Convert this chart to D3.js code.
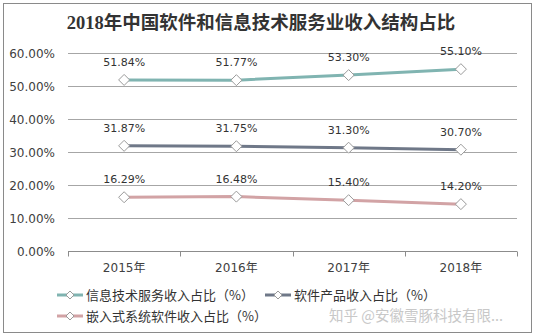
<!DOCTYPE html>
<html>
<head>
<meta charset="utf-8">
<script src="https://cdn.jsdelivr.net/npm/d3@7"></script>
<style>
  body { margin: 0; background: #fff; }
  svg { display: block; }
</style>
</head>
<body>
<div id="chart"></div>
<script>
const years = ["2015年", "2016年", "2017年", "2018年"];
const itService = [51.84, 51.77, 53.30, 55.10];
const softwareProduct = [31.87, 31.75, 31.30, 30.70];
const embedded = [16.29, 16.48, 15.40, 14.20];
const yTicks = [0, 10, 20, 30, 40, 50, 60];
const seriesNames = ["信息技术服务收入占比（%）", "软件产品收入占比（%）", "嵌入式系统软件收入占比（%）"];
const seriesColors = ["#80b4b1", "#6f7888", "#d2a3a5"];

const W = 535, H = 336;
const margin = { left: 68, right: 18, top: 53, bottom: 85 };
const cjk = "'Noto Sans CJK SC', sans-serif";

const svg = d3.select("#chart").append("svg")
  .attr("width", W)
  .attr("height", H);

// outer frame
svg.append("rect")
  .attr("x", 3.5).attr("y", 3.5)
  .attr("width", 528).attr("height", 329)
  .attr("fill", "#fff")
  .attr("stroke", "#8a8a8a");

svg.append("text")
  .attr("x", 261).attr("y", 29)
  .attr("text-anchor", "middle")
  .attr("font-family", "'Liberation Serif', 'Noto Sans CJK SC', serif")
  .attr("font-weight", "bold")
  .attr("font-size", 18.5)
  .attr("fill", "#333")
  .text("2018年中国软件和信息技术服务业收入结构占比");

const x = d3.scaleBand().domain(years).range([margin.left, W - margin.right]);
const y = d3.scaleLinear().domain([0, 60]).range([H - margin.bottom, margin.top]);

const g = svg.append("g");

// grid lines
g.selectAll("line.grid")
  .data(yTicks.filter(t => t > 0))
  .enter().append("line")
    .attr("class", "grid")
    .attr("x1", margin.left).attr("x2", W - margin.right)
    .attr("y1", d => Math.round(y(d)) + 0.5)
    .attr("y2", d => Math.round(y(d)) + 0.5)
    .attr("stroke", "#a6a6a6");

// y labels
g.selectAll("text.ylab")
  .data(yTicks)
  .enter().append("text")
    .attr("class", "ylab")
    .attr("x", 55)
    .attr("y", d => y(d) + 4.5)
    .attr("text-anchor", "end")
    .attr("font-family", "'DejaVu Sans', sans-serif")
    .attr("font-size", 12)
    .attr("fill", "#404040")
    .text(d => d.toFixed(2) + "%");

// x axis
const xAxis = g.append("g")
  .attr("transform", `translate(0, ${Math.round(y(0)) + 0.5})`)
  .call(d3.axisBottom(x).tickSize(0).tickPadding(12));
xAxis.select(".domain").attr("stroke", "#8c8c8c").attr("d", `M${margin.left},0H${W - margin.right}`);
xAxis.selectAll("text")
  .attr("font-family", "'DejaVu Sans', " + cjk)
  .attr("font-size", 12)
  .attr("fill", "#404040");

// tick marks between categories
const bounds = [margin.left].concat(years.map(d => x(d) + x.bandwidth()));
xAxis.selectAll("line.sep")
  .data(bounds)
  .enter().append("line")
    .attr("class", "sep")
    .attr("x1", d => Math.round(d) + 0.5).attr("x2", d => Math.round(d) + 0.5)
    .attr("y1", 0).attr("y2", 5)
    .attr("stroke", "#8c8c8c");

const allSeries = [itService, softwareProduct, embedded];
const line = d3.line()
  .x((d, i) => x(years[i]) + x.bandwidth() / 2)
  .y(d => y(d));

const diamond = (cx, cy, r) => `M${cx},${cy - r}L${cx + r},${cy}L${cx},${cy + r}L${cx - r},${cy}Z`;

allSeries.forEach((vals, si) => {
  const sg = g.append("g");
  sg.append("path")
    .datum(vals)
    .attr("d", line)
    .attr("fill", "none")
    .attr("stroke", seriesColors[si])
    .attr("stroke-width", 3);

  sg.selectAll("path.mk")
    .data(vals)
    .enter().append("path")
      .attr("class", "mk")
      .attr("d", (d, i) => diamond(x(years[i]) + x.bandwidth() / 2, y(d), 5.5))
      .attr("fill", "#fff")
      .attr("stroke", "#9a9a9a")
      .attr("stroke-width", 1);

  sg.selectAll("text.lbl")
    .data(vals)
    .enter().append("text")
      .attr("class", "lbl")
      .attr("x", (d, i) => x(years[i]) + x.bandwidth() / 2)
      .attr("y", d => y(d) - 14)
      .attr("text-anchor", "middle")
      .attr("font-family", "'DejaVu Sans', sans-serif")
      .attr("font-size", 11)
      .attr("fill", "#333")
      .text(d => d.toFixed(2) + "%");
});

// legend
const legendPos = [[57, 295], [265, 295], [57, 316]];
legendPos.forEach(([lx, ly], i) => {
  const lg = svg.append("g").attr("transform", `translate(${lx}, ${ly})`);
  lg.append("line")
    .attr("x1", 0).attr("x2", 26).attr("y1", 0).attr("y2", 0)
    .attr("stroke", seriesColors[i]).attr("stroke-width", 3);
  lg.append("path")
    .attr("d", diamond(13, 0, 4))
    .attr("fill", "#fff")
    .attr("stroke", "#9a9a9a");
  lg.append("text")
    .attr("x", 29).attr("y", 5)
    .attr("font-family", cjk)
    .attr("font-size", 13)
    .attr("fill", "#333")
    .text(seriesNames[i]);
});

svg.append("text")
  .attr("x", 329).attr("y", 321)
  .attr("font-family", cjk)
  .attr("font-size", 14.5)
  .attr("fill", "#c8c8c8")
  .text("知乎 @安徽雪豚科技有限...");
</script>
</body>
</html>
